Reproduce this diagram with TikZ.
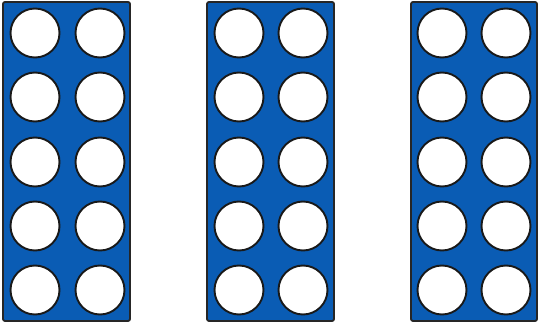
\documentclass[tikz,border=0pt]{standalone}
\definecolor{frameblue}{HTML}{0A5CB4}
\tikzset{
  frame/.style={draw=black!85, fill=frameblue, line width=1.8pt, rounded corners=2pt},
  dot/.style={circle, draw=black!90, fill=white, line width=1.9pt, minimum size=49pt, inner sep=0pt}
}
\begin{document}
\begin{tikzpicture}[x=1pt,y=-1pt]
\useasboundingbox (0,0) rectangle (539,326);
\foreach \f/\xl/\xr/\ca/\cb in {1/3/130/35/100, 2/207/334/239/303, 3/411/537/442/506}{
  \draw[frame] (\xl,2) rectangle (\xr,321);
  \foreach \r/\cy in {1/33, 2/97, 3/162, 4/226, 5/290}{
    \node[dot] (f\f r\r a) at (\ca,\cy) {};
    \node[dot] (f\f r\r b) at (\cb,\cy) {};
  }
}
\end{tikzpicture}
\end{document}
